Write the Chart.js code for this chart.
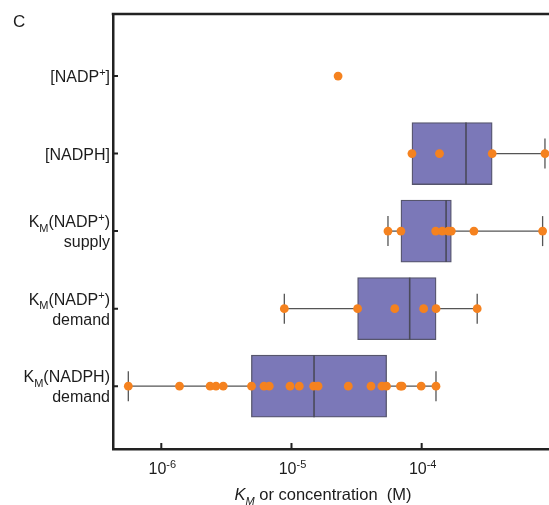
<!DOCTYPE html>
<html>
<head>
<meta charset="utf-8">
<script src="https://cdn.jsdelivr.net/npm/chart.js@4.4.0/dist/chart.umd.min.js"></script>
<style>
  html, body { margin: 0; padding: 0; background: #fff; }
  #wrap { width: 549px; height: 505px; }
</style>
</head>
<body>
<div id="wrap"><canvas id="boxChart"></canvas></div>
<script>
// row labels, top to bottom ("_X" = subscript, "^X" = superscript)
const categories = ['[NADP^+]', '[NADPH]', ['K_M(NADP^+)', 'supply'], ['K_M(NADP^+)', 'demand'], ['K_M(NADPH)', 'demand']];
const xTickValues = [1e-6, 1e-5, 1e-4];
const xTickLabels = [['10', '-6'], ['10', '-5'], ['10', '-4']];

// individual values per row (M)
const pointsNadpConc = [2.28e-5];
const pointsNadphConc = [8.42e-5, 1.37e-4, 3.48e-4, 8.85e-4];
const pointsKmNadpSupply = [5.51e-5, 6.93e-5, 1.28e-4, 1.44e-4, 1.60e-4, 1.69e-4, 2.52e-4, 8.49e-4];
const pointsKmNadpDemand = [8.81e-6, 3.22e-5, 6.21e-5, 1.035e-4, 1.29e-4, 2.67e-4];
const pointsKmNadphDemand = [5.58e-7, 1.38e-6, 2.37e-6, 2.63e-6, 2.99e-6, 4.93e-6, 6.15e-6, 6.75e-6,
  9.74e-6, 1.148e-5, 1.48e-5, 1.60e-5, 2.73e-5, 4.08e-5, 4.95e-5, 5.37e-5, 6.87e-5, 7.06e-5, 9.91e-5, 1.288e-4];

// box summaries per row (null = not drawn)
const boxQ1 = [null, 8.42e-5, 6.93e-5, 3.22e-5, 4.92e-6];
const boxMedian = [null, 2.19e-4, 1.54e-4, 8.09e-5, 1.49e-5];
const boxQ3 = [null, 3.48e-4, 1.69e-4, 1.29e-4, 5.38e-5];
const whiskerLow = [null, null, 5.51e-5, 8.81e-6, 5.58e-7];
const whiskerHigh = [null, 8.85e-4, 8.49e-4, 2.67e-4, 1.288e-4];

const rowPoints = [pointsNadpConc, pointsNadphConc, pointsKmNadpSupply, pointsKmNadpDemand, pointsKmNadphDemand];

const FONT = '"Liberation Sans", Arial, sans-serif';
const TEXT = '#1c1c1c';
const LINE = '#555555';

const scatterData = [];
rowPoints.forEach((vals, i) => vals.forEach(v => scatterData.push({ x: v, y: i })));

const boxData = [], medianData = [], capData = [], whiskerSets = [];
categories.forEach((c, i) => {
  if (boxQ1[i] !== null) {
    boxData.push({ x: [boxQ1[i], boxQ3[i]], y: i });
    medianData.push({ x: boxMedian[i], y: i });
  }
  if (whiskerLow[i] !== null) {
    capData.push({ x: whiskerLow[i], y: i });
    whiskerSets.push([{ x: whiskerLow[i], y: i }, { x: boxQ1[i], y: i }]);
  }
  if (whiskerHigh[i] !== null) {
    capData.push({ x: whiskerHigh[i], y: i });
    whiskerSets.push([{ x: boxQ3[i], y: i }, { x: whiskerHigh[i], y: i }]);
  }
});

// split "K_M(NADP^+)" into normal / sub / sup pieces
function parseRich(str) {
  const segs = [];
  for (let k = 0; k < str.length; k++) {
    const ch = str[k];
    if ((ch === '_' || ch === '^') && k + 1 < str.length) {
      segs.push({ t: str[k + 1], mode: ch });
      k++;
    } else if (segs.length && segs[segs.length - 1].mode === 'n') {
      segs[segs.length - 1].t += ch;
    } else {
      segs.push({ t: ch, mode: 'n' });
    }
  }
  return segs;
}

function drawRich(ctx, segs, x, y, size, align) {
  const small = Math.round(size * 0.66);
  const fontFor = s => (s.italic ? 'italic ' : '') + (s.mode === 'n' ? size : small) + 'px ' + FONT;
  let total = 0;
  segs.forEach(s => { ctx.font = fontFor(s); s.w = ctx.measureText(s.t).width; total += s.w; });
  let cx = align === 'right' ? x - total : align === 'center' ? x - total / 2 : x;
  ctx.textAlign = 'left';
  ctx.textBaseline = 'alphabetic';
  segs.forEach(s => {
    ctx.font = fontFor(s);
    const dy = s.mode === '_' ? size * 0.3 : s.mode === '^' ? -size * 0.38 : 0;
    ctx.fillText(s.t, cx, y + dy);
    cx += s.w;
  });
}

const decorations = {
  id: 'decorations',
  afterDraw(chart) {
    const { ctx, chartArea: a, scales } = chart;
    ctx.save();
    ctx.fillStyle = TEXT;
    ctx.strokeStyle = '#222';

    // top frame line
    ctx.lineWidth = 2.5;
    ctx.beginPath();
    ctx.moveTo(a.left - 1.25, a.top);
    ctx.lineTo(a.right, a.top);
    ctx.stroke();

    // inward tick marks
    ctx.lineWidth = 2;
    ctx.beginPath();
    xTickValues.forEach(v => {
      const px = scales.x.getPixelForValue(v);
      ctx.moveTo(px, a.bottom);
      ctx.lineTo(px, a.bottom - 6);
    });
    categories.forEach((c, i) => {
      const py = scales.y.getPixelForValue(i);
      ctx.moveTo(a.left, py);
      ctx.lineTo(a.left + 5, py);
    });
    ctx.stroke();

    // x tick labels 10^n
    xTickValues.forEach((v, k) => {
      const px = scales.x.getPixelForValue(v);
      drawRich(ctx, [{ t: xTickLabels[k][0], mode: 'n' }, { t: xTickLabels[k][1], mode: '^' }], px + 1, a.bottom + 25, 16, 'center');
    });

    // y category labels
    categories.forEach((c, i) => {
      const lines = Array.isArray(c) ? c : [c];
      const py = scales.y.getPixelForValue(i);
      const lh = 20;
      const y0 = py + 6 - (lines.length - 1) * lh / 2;
      lines.forEach((ln, j) => drawRich(ctx, parseRich(ln), a.left - 3, y0 + j * lh, 16, 'right'));
    });

    // x axis title
    drawRich(ctx, [
      { t: 'K', mode: 'n', italic: true },
      { t: 'M', mode: '_', italic: true },
      { t: ' or concentration  (M)', mode: 'n' }
    ], (a.left + a.right) / 2 - 8, a.bottom + 51, 16.5, 'center');

    // panel letter
    ctx.font = '17px ' + FONT;
    ctx.textAlign = 'left';
    ctx.fillText('C', 13, 27);
    ctx.restore();
  }
};

const datasets = [
  {
    type: 'scatter', data: scatterData, order: 0,
    pointRadius: 4.4, pointBackgroundColor: '#f5821f', pointBorderWidth: 0, clip: false
  },
  {
    type: 'scatter', data: medianData, order: 1,
    pointStyle: 'line', pointRotation: 90, pointRadius: 31,
    pointBorderColor: '#4a4a5a', pointBorderWidth: 1.6
  },
  {
    type: 'scatter', data: capData, order: 2,
    pointStyle: 'line', pointRotation: 90, pointRadius: 15,
    pointBorderColor: LINE, pointBorderWidth: 1.3
  },
  ...whiskerSets.map(seg => ({
    type: 'line', data: seg, order: 3, showLine: true,
    borderColor: LINE, borderWidth: 1.3, pointRadius: 0
  })),
  {
    type: 'bar', data: boxData, order: 4, indexAxis: 'y',
    barThickness: 62, backgroundColor: '#7b78b8',
    borderColor: '#56556c', borderWidth: 1.3, borderSkipped: false
  }
];

new Chart(document.getElementById('boxChart').getContext('2d'), {
  type: 'scatter',
  data: { datasets: datasets },
  options: {
    responsive: true,
    maintainAspectRatio: false,
    animation: false,
    layout: { autoPadding: false, padding: { left: 113, top: 14, right: 0, bottom: 56 } },
    plugins: { legend: { display: false }, tooltip: { enabled: false } },
    scales: {
      x: {
        type: 'logarithmic',
        min: Math.pow(10, -6.371),
        max: Math.pow(10, -3.022),
        offset: false,
        ticks: { display: false },
        grid: { display: false, drawTicks: false },
        border: { color: '#222', width: 2.5 }
      },
      y: {
        type: 'linear',
        min: -0.8,
        max: 4.81,
        reverse: true,
        offset: false,
        ticks: { display: false },
        grid: { display: false, drawTicks: false },
        border: { color: '#222', width: 2.5 }
      }
    }
  },
  plugins: [decorations]
});
</script>
</body>
</html>
